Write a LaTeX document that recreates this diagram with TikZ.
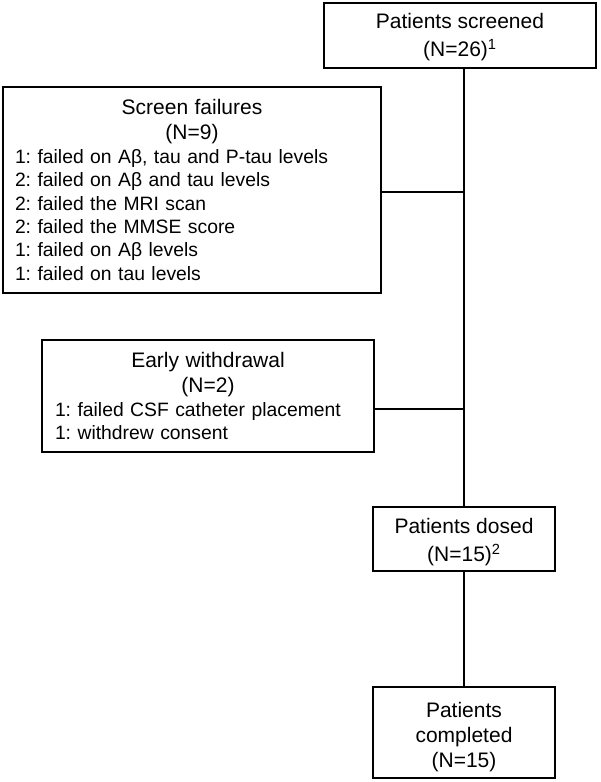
\documentclass[tikz,border=0pt]{standalone}
\usepackage{fontspec}
\setmainfont{Liberation Sans}
\usetikzlibrary{calc}
\frenchspacing
\newcommand\ctrline[2]{\makebox[#1][c]{\fontsize{15.75}{19}\selectfont #2}}
\newcommand\supnum[1]{\smash{\textsuperscript{#1}}}
\begin{document}
\begin{tikzpicture}[x=0.75pt,y=-0.75pt,
  box/.style={draw,line width=2.2pt,inner sep=0pt,font=\fontsize{15.75}{19}\selectfont},
  listbox/.style={box,align=left,font=\fontsize{14.5}{17.5}\selectfont},
  link/.style={line width=2.2pt}]
\useasboundingbox[fill=white] (0,0) rectangle (600,782);
\node[box,align=center,minimum width=204pt,minimum height=48.75pt] (screened) at (460,35.5)
  {\rule{0pt}{14pt}Patients screened\\[1.5pt](N=26)\supnum{1}};
\node[listbox,text width=265.5pt,minimum width=283.5pt,minimum height=154.5pt] (fail) at (192,190)
  {\ctrline{265.5pt}{Screen failures}\\[1pt]
   \ctrline{265.5pt}{(N=9)}\\[0.5pt]
   1: failed on Aβ, tau and P-tau levels\\
   2: failed on Aβ and tau levels\\
   2: failed the MRI scan\\
   2: failed the MMSE score\\
   1: failed on Aβ levels\\
   1: failed on tau levels};
\node[listbox,text width=229.5pt,minimum width=249pt,minimum height=84pt] (early) at (208,396)
  {\ctrline{229.5pt}{Early withdrawal}\\[1pt]
   \ctrline{229.5pt}{(N=2)}\\[0.5pt]
   1: failed CSF catheter placement\\
   1: withdrew consent};
\node[box,align=center,minimum width=136.5pt,minimum height=48pt] (dosed) at (464,539)
  {\rule{0pt}{16pt}Patients dosed\\[2pt](N=15)\supnum{2}};
\node[box,align=center,minimum width=136.5pt,minimum height=68.25pt] (completed) at (464,732.5)
  {\rule{0pt}{18pt}Patients\\completed\\(N=15)};
\draw[link] (dosed.north |- screened.south) -- (dosed.north);
\draw[link] (dosed.south) -- (completed.north);
\draw[link] ($(fail.east)+(0,2)$) -- ($(fail.east -| dosed.north)+(0,2)$);
\draw[link] ($(early.east)+(0,13)$) -- ($(early.east -| dosed.north)+(0,13)$);
\end{tikzpicture}
\end{document}
